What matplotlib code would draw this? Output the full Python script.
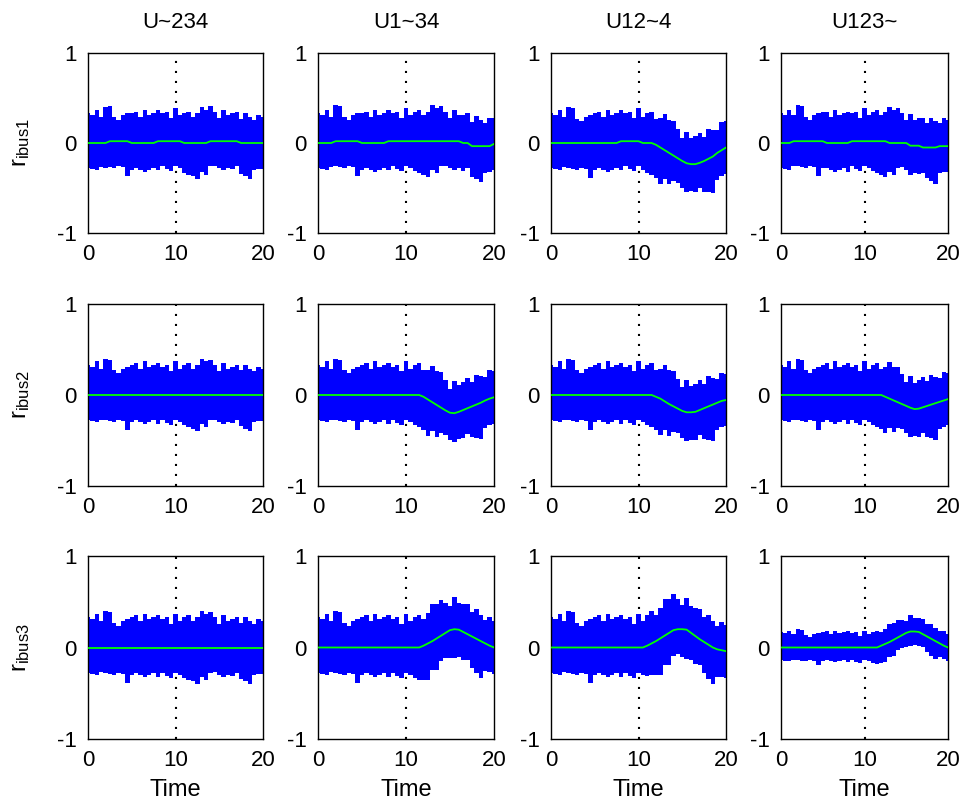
import matplotlib
matplotlib.use('Agg')
import matplotlib.pyplot as plt
import numpy as np

plt.rcParams['font.family'] = ['Liberation Sans', 'DejaVu Sans']
plt.rcParams['axes.unicode_minus'] = False

# time grid of the readings (every 0.5 s)
time = np.linspace(0, 20, 41)

col_titles = ['U~234', 'U1~34', 'U12~4', 'U123~']
row_labels = [r'$\mathregular{r_{ibus1}}$', r'$\mathregular{r_{ibus2}}$', r'$\mathregular{r_{ibus3}}$']

# noise envelope around the mean (same realisation in every panel)
noise_upper = [0.33, 0.31, 0.37, 0.29, 0.40, 0.39, 0.27, 0.24, 0.29, 0.31,
               0.33, 0.35, 0.29, 0.37, 0.31, 0.33, 0.35, 0.31, 0.33, 0.26,
               0.37, 0.29, 0.33, 0.35, 0.29, 0.33, 0.40, 0.37, 0.39, 0.33,
               0.26, 0.35, 0.29, 0.31, 0.33, 0.27, 0.33, 0.29, 0.26, 0.31, 0.29]
noise_lower = [-0.28, -0.29, -0.30, -0.27, -0.28, -0.29, -0.30, -0.28, -0.29, -0.39,
               -0.30, -0.28, -0.30, -0.32, -0.30, -0.28, -0.32, -0.28, -0.31, -0.33,
               -0.28, -0.30, -0.33, -0.35, -0.37, -0.40, -0.32, -0.35, -0.28, -0.27,
               -0.30, -0.32, -0.30, -0.31, -0.28, -0.34, -0.37, -0.40, -0.30, -0.29, -0.29]

# noise amplitude per panel (rows: ibus1..3, cols: U~234..U123~)
noise_scale = [[1.0, 1.0, 1.0, 1.0],
               [1.0, 1.0, 1.0, 1.0],
               [1.0, 1.0, 1.0, 0.5]]

# green mean residual, per panel
mean_11 = [0, 0, 0, 0, 0, .02, .02, .02, .02, .02, 0, 0, 0, 0, 0, 0,
           .02, .02, .02, .02, .02, .02, 0, 0, 0, 0, 0, 0,
           .02, .02, .02, .02, .02, .02, .02, 0, 0, 0, 0, 0, 0]
mean_12 = [0, 0, 0, 0, .02, .02, .02, .02, .02, .02, 0, 0, 0, 0, 0, 0,
           .02, .02, .02, .02, .02, .02, .02, .02, .02, .02, .02, .02, .02, .02, .02, .02, .02,
           0, 0, -.035, -.035, -.035, -.035, -.035, -.01]
mean_13 = [0, 0, 0, 0, 0, 0, 0, 0, 0, 0, 0, 0, 0, 0, 0, 0,
           .02, .02, .02, .02, .02, 0, 0, 0,
           -.02, -.05, -.08, -.11, -.14, -.17, -.20, -.225, -.235, -.235,
           -.22, -.20, -.175, -.15, -.11, -.08, -.05]
mean_14 = [0, 0, 0, .02, .02, .02, .02, .02, .02, .02, .02, 0, 0, 0, 0, 0, 0,
           .02, .02, .02, .02, .02, .02, .02, .02, .02, 0, 0, 0, 0, 0,
           -.03, -.03, -.03, -.05, -.05, -.05, -.05, -.035, -.035, -.035]
mean_21 = [0] * 41
mean_22 = [0, 0, 0, 0, 0, 0, 0, 0, 0, 0, 0, 0, 0, 0, 0, 0, 0, 0, 0, 0, 0, 0, 0, 0,
           -.02, -.05, -.08, -.11, -.14, -.17, -.195, -.20, -.185, -.165,
           -.145, -.125, -.105, -.085, -.06, -.04, -.025]
mean_23 = [0, 0, 0, 0, 0, 0, 0, 0, 0, 0, 0, 0, 0, 0, 0, 0, 0, 0, 0, 0, 0, 0, 0, 0,
           -.02, -.04, -.07, -.10, -.125, -.15, -.175, -.19, -.19, -.185,
           -.165, -.145, -.125, -.105, -.085, -.065, -.055]
mean_24 = [0, 0, 0, 0, 0, 0, 0, 0, 0, 0, 0, 0, 0, 0, 0, 0, 0, 0, 0, 0, 0, 0, 0, 0, 0,
           -.02, -.04, -.06, -.08, -.10, -.12, -.14, -.155, -.15,
           -.135, -.12, -.105, -.09, -.075, -.06, -.045]
mean_31 = [0] * 41
mean_32 = [0, 0, 0, 0, 0, 0, 0, 0, 0, 0, 0, 0, 0, 0, 0, 0, 0, 0, 0, 0, 0, 0, 0, 0,
           .02, .045, .07, .10, .13, .16, .19, .20, .195, .17,
           .145, .12, .095, .07, .045, .02, 0]
mean_33 = [0, 0, 0, 0, 0, 0, 0, 0, 0, 0, 0, 0, 0, 0, 0, 0, 0, 0, 0, 0, 0, 0,
           .02, .045, .07, .10, .13, .16, .19, .20, .20, .195, .16, .125,
           .09, .06, .03, 0, -.02, -.03, -.04]
mean_34 = [0, 0, 0, 0, 0, 0, 0, 0, 0, 0, 0, 0, 0, 0, 0, 0, 0, 0, 0, 0, 0, 0, 0, 0,
           .02, .04, .06, .085, .11, .135, .16, .175, .175, .17,
           .145, .12, .095, .07, .045, .02, 0]

means = [[mean_11, mean_12, mean_13, mean_14],
         [mean_21, mean_22, mean_23, mean_24],
         [mean_31, mean_32, mean_33, mean_34]]

W, H = 971, 808
fig = plt.figure(figsize=(W / 100, H / 100), dpi=100)

# axes boxes in pixels
col_px = [(88, 175), (318, 176), (551, 175), (781, 167)]
row_px = [(53, 180), (304, 182), (556, 183)]

up = np.array(noise_upper)
lo = np.array(noise_lower)

for i in range(3):
    for j in range(4):
        x0, w = col_px[j]
        y0, h = row_px[i]
        ax = fig.add_axes([x0 / W, 1 - (y0 + h) / H, w / W, h / H])
        m = np.array(means[i][j], dtype=float)
        s = noise_scale[i][j]
        ax.axvline(10, color='k', linestyle=(0, (1, 3.8)), lw=1.5, zorder=1)
        ax.fill_between(time, m + s * lo, m + s * up, step='mid',
                        color='#0000ff', lw=0, zorder=2)
        ax.plot(time, m, color='#00ff00', lw=1.3, zorder=3)
        ax.set_xlim(0, 20)
        ax.set_ylim(-1, 1)
        ax.set_xticks([0, 10, 20])
        ax.set_yticks([-1, 0, 1])
        ax.tick_params(length=0, labelsize=16, pad=8)
        for sp in ax.spines.values():
            sp.set_linewidth(1.0)
        if i == 0:
            ax.set_title(col_titles[j], fontsize=16, pad=18)
        if i == 2:
            ax.set_xlabel('Time', fontsize=17, labelpad=6)
        if j == 0:
            ax.set_ylabel(row_labels[i], fontsize=17, labelpad=18)

fig.savefig('out.png', dpi=100)
